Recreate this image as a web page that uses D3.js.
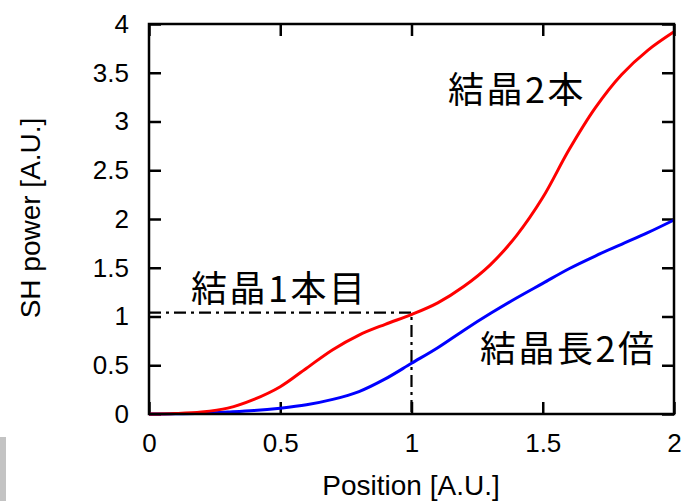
<!DOCTYPE html>
<html>
<head>
<meta charset="utf-8">
<script src="https://cdn.jsdelivr.net/npm/d3@7"></script>
<style>
  body { margin: 0; background: #fff; }
  svg text { font-family: "Liberation Sans", Arial, sans-serif; }
  .jp { font-family: "Noto Sans CJK JP", sans-serif; }
</style>
</head>
<body>
<script>
// positions along the crystal (A.U.)
var position = [0, 0.1, 0.2, 0.3, 0.4, 0.5, 0.6, 0.7, 0.8, 0.9, 1.0,
                1.1, 1.2, 1.3, 1.4, 1.5, 1.6, 1.7, 1.8, 1.9, 2.0];
// two crystals (red)
var twoCrystals = [0, 0.005, 0.02, 0.06, 0.15, 0.28, 0.47, 0.66, 0.81, 0.92, 1.02,
                   1.14, 1.31, 1.53, 1.83, 2.22, 2.71, 3.14, 3.48, 3.73, 3.92];
// double-length crystal (blue)
var doubleLength = [0, 0.002, 0.008, 0.02, 0.035, 0.06, 0.095, 0.15, 0.23, 0.36, 0.52,
                    0.68, 0.86, 1.03, 1.19, 1.34, 1.49, 1.62, 1.74, 1.86, 1.99];
var xTicks = [0, 0.5, 1, 1.5, 2];
var yTicks = [0, 0.5, 1, 1.5, 2, 2.5, 3, 3.5, 4];
// dash-dot guide: end of first crystal
var guideX = 1, guideY = 1.04;

var svg = d3.select("body")
  .append("svg")
    .attr("width", 685)
    .attr("height", 501)

var x = d3.scaleLinear().domain([0, 2]).range([149, 674])
var y = d3.scaleLinear().domain([0, 4]).range([414, 24])

// grey strip at the bottom left
svg.append("rect").attr("x", 0).attr("y", 437).attr("width", 6).attr("height", 64).style("fill", "#c3c3c3")

// axes, ticks point inward
var fmt = function(d) { return d3.format("")(d) }
svg.append("g").attr("transform", "translate(0,414)")
  .call(d3.axisBottom(x).tickValues(xTicks).tickFormat(fmt).tickSize(-12).tickSizeOuter(0).tickPadding(20))
svg.append("g").attr("transform", "translate(0,24)")
  .call(d3.axisTop(x).tickValues(xTicks).tickFormat("").tickSize(-12).tickSizeOuter(0))
svg.append("g").attr("transform", "translate(149,0)")
  .call(d3.axisLeft(y).tickValues(yTicks).tickFormat(fmt).tickSize(-12).tickSizeOuter(0).tickPadding(20))
svg.append("g").attr("transform", "translate(674,0)")
  .call(d3.axisRight(y).tickValues(yTicks).tickFormat("").tickSize(-12).tickSizeOuter(0))

svg.selectAll(".domain").remove()
svg.selectAll(".tick line").attr("stroke", "#000").attr("stroke-width", 2.5)
svg.selectAll(".tick text").style("font-size", "26px").attr("fill", "#000")

// dash-dot guide
svg.append("path")
  .attr("d", d3.line()([[x(0), y(guideY)], [x(guideX), y(guideY)], [x(guideX), y(0)]]))
  .attr("fill", "none").attr("stroke", "#000").attr("stroke-width", 2.2)
  .attr("stroke-dasharray", "12,5,3,5")

// curves
var line = d3.line().x(function(d) { return x(d[0]) }).y(function(d) { return y(d[1]) }).curve(d3.curveCatmullRom.alpha(0.5))
svg.append("path").datum(d3.zip(position, doubleLength))
  .attr("d", line).attr("fill", "none").attr("stroke", "#0000ff").attr("stroke-width", 3)
svg.append("path").datum(d3.zip(position, twoCrystals))
  .attr("d", line).attr("fill", "none").attr("stroke", "#ff0000").attr("stroke-width", 3)

// frame
svg.append("rect").attr("x", 149).attr("y", 24).attr("width", 525).attr("height", 390)
  .attr("fill", "none").attr("stroke", "#000").attr("stroke-width", 2.5)

// axis titles
svg.append("text").attr("x", 411).attr("y", 495).attr("text-anchor", "middle")
  .style("font-size", "28px").text("Position [A.U.]")
svg.append("text").attr("transform", "translate(40,218) rotate(-90)").attr("text-anchor", "middle")
  .style("font-size", "28px").text("SH power [A.U.]")

// annotations
svg.append("text").attr("class", "jp").attr("x", 448).attr("y", 103).style("font-size", "36px").style("letter-spacing", "2.5px").text("結晶2本")
svg.append("text").attr("class", "jp").attr("x", 191).attr("y", 302).style("font-size", "36px").style("letter-spacing", "2.5px").text("結晶1本目")
svg.append("text").attr("class", "jp").attr("x", 480).attr("y", 362).style("font-size", "36px").style("letter-spacing", "2.5px").text("結晶長2倍")
</script>
</body>
</html>
